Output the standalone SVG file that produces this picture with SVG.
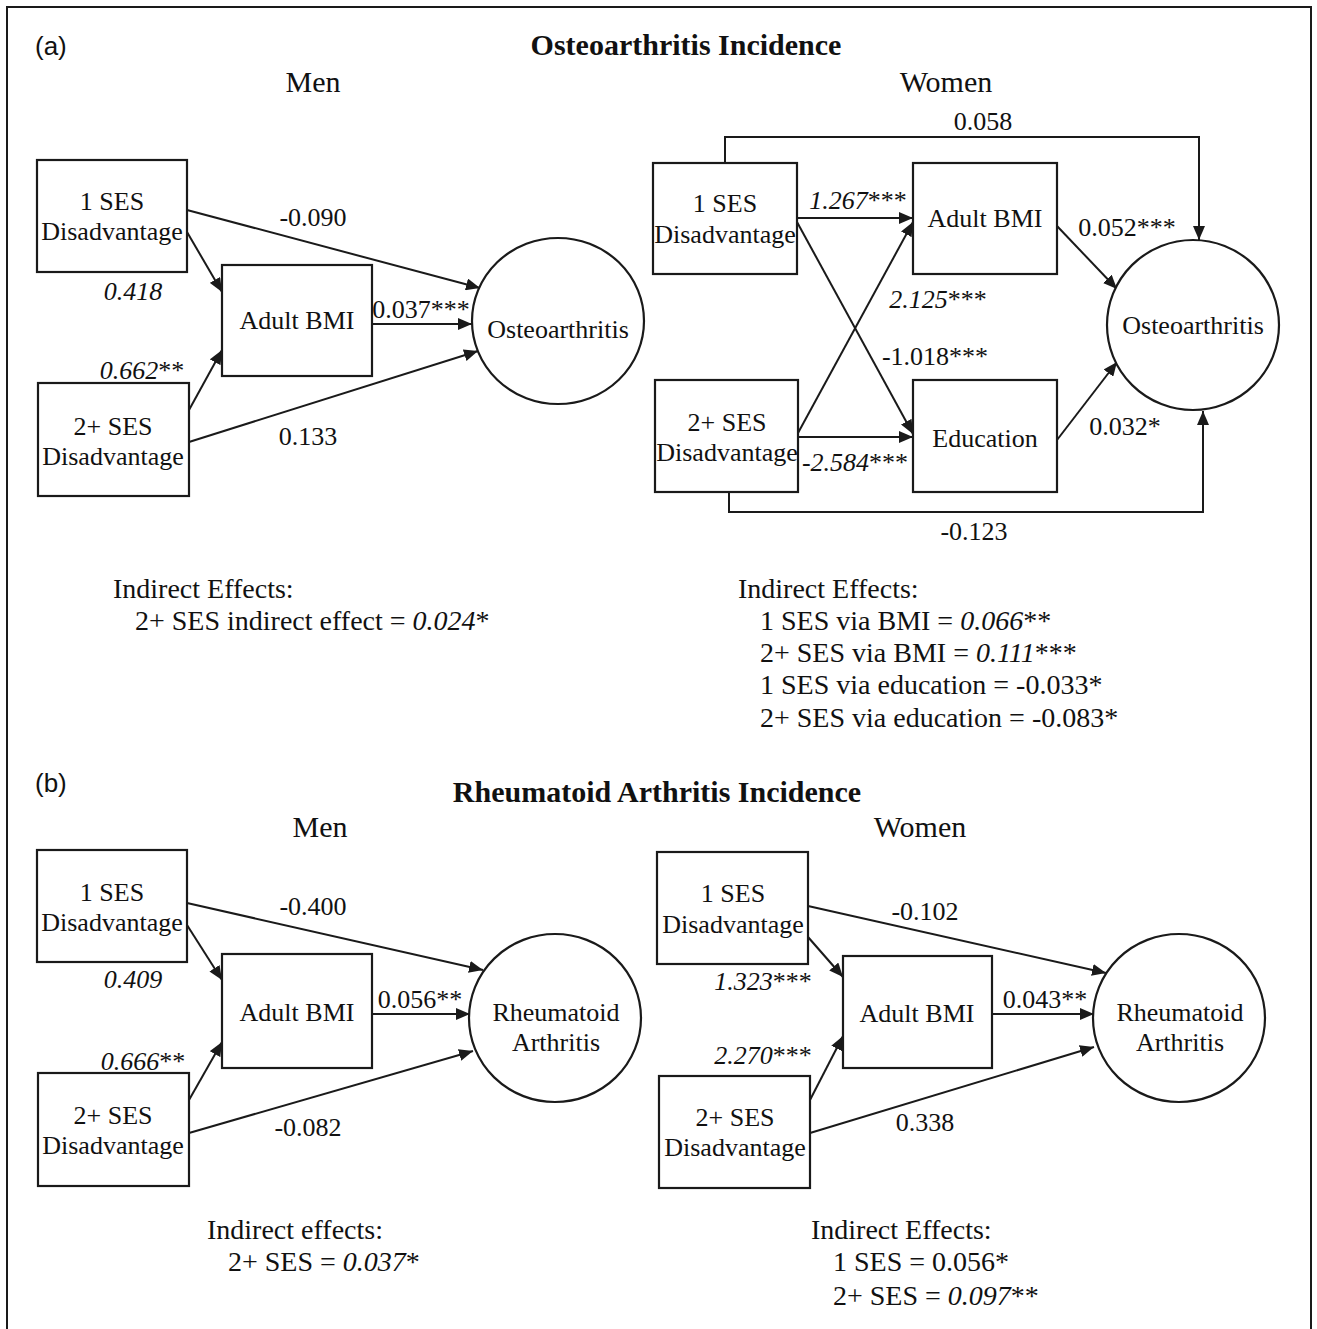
<svg xmlns="http://www.w3.org/2000/svg" width="1317" height="1329" viewBox="0 0 1317 1329">
<defs>
<marker id="ah" markerWidth="14" markerHeight="12" refX="14" refY="6" orient="auto" markerUnits="userSpaceOnUse"><path d="M0,0 L14,6 L0,12 z" fill="#1a1a1a"/></marker>
<style>
.bx{fill:#fff;stroke:#1a1a1a;stroke-width:2.2}
.ci{fill:#fff;stroke:#1a1a1a;stroke-width:2.2}
.ln{fill:none;stroke:#1a1a1a;stroke-width:2;marker-end:url(#ah)}
.t{font-family:"Liberation Serif","Times New Roman",serif;font-size:26px;fill:#111;text-anchor:middle}
.it{font-style:italic}
.lb{font-family:"Liberation Serif","Times New Roman",serif;font-size:26px;fill:#111;text-anchor:middle}
.hd{font-family:"Liberation Serif","Times New Roman",serif;font-size:30px;fill:#111;text-anchor:middle}
.ti{font-family:"Liberation Serif","Times New Roman",serif;font-size:30px;font-weight:bold;fill:#111;text-anchor:middle}
.pl{font-family:"Liberation Sans",Arial,sans-serif;font-size:26px;fill:#111}
.ie{font-family:"Liberation Serif","Times New Roman",serif;font-size:28px;fill:#111}
</style>
</defs>
<rect x="7" y="7" width="1304" height="1330" fill="#fff" stroke="#1a1a1a" stroke-width="2"/>

<g id="headings">
<text class="pl" x="35" y="55">(a)</text>
<text class="ti" x="686" y="55">Osteoarthritis Incidence</text>
<text class="hd" x="313" y="92">Men</text>
<text class="hd" x="946" y="92">Women</text>
<text class="pl" x="35" y="792">(b)</text>
<text class="ti" x="657" y="802">Rheumatoid Arthritis Incidence</text>
<text class="hd" x="320" y="837">Men</text>
<text class="hd" x="920" y="837">Women</text>
</g>

<g id="connectors">
<!-- a men -->
<line class="ln" x1="187" y1="210" x2="480" y2="288"/>
<line class="ln" x1="187" y1="232" x2="222" y2="292"/>
<line class="ln" x1="189" y1="410" x2="222" y2="350"/>
<line class="ln" x1="372" y1="324" x2="472" y2="324"/>
<line class="ln" x1="189" y1="442" x2="478" y2="351"/>
<!-- a women -->
<polyline class="ln" points="725,163 725,137 1199,137 1199,240"/>
<polyline class="ln" points="729,492 729,512 1203,512 1203,411"/>
<line class="ln" x1="797" y1="218" x2="913" y2="218"/>
<line class="ln" x1="797" y1="222" x2="913" y2="434"/>
<line class="ln" x1="798" y1="433" x2="913" y2="222"/>
<line class="ln" x1="798" y1="437" x2="913" y2="437"/>
<line class="ln" x1="1057" y1="226" x2="1117" y2="289"/>
<line class="ln" x1="1057" y1="440" x2="1117" y2="362"/>
<!-- b men -->
<line class="ln" x1="187" y1="903" x2="483" y2="970"/>
<line class="ln" x1="187" y1="925" x2="222" y2="980"/>
<line class="ln" x1="189" y1="1100" x2="222" y2="1042"/>
<line class="ln" x1="372" y1="1014" x2="470" y2="1014"/>
<line class="ln" x1="189" y1="1133" x2="473" y2="1051"/>
<!-- b women -->
<line class="ln" x1="808" y1="906" x2="1106" y2="973"/>
<line class="ln" x1="808" y1="937" x2="843" y2="977"/>
<line class="ln" x1="810" y1="1100" x2="843" y2="1036"/>
<line class="ln" x1="992" y1="1014" x2="1094" y2="1014"/>
<line class="ln" x1="810" y1="1133" x2="1094" y2="1047"/>
</g>

<g id="edge-labels">
<text class="lb" x="313" y="226">-0.090</text>
<text class="lb it" x="133" y="300">0.418</text>
<text class="lb" x="142" y="379"><tspan class="it">0.662</tspan>**</text>
<text class="lb" x="421" y="318">0.037***</text>
<text class="lb" x="308" y="445">0.133</text>
<text class="lb" x="983" y="130">0.058</text>
<text class="lb" x="858" y="209"><tspan class="it">1.267</tspan>***</text>
<text class="lb" x="938" y="308"><tspan class="it">2.125</tspan>***</text>
<text class="lb" x="935" y="365">-1.018***</text>
<text class="lb" x="855" y="471"><tspan class="it">-2.584</tspan>***</text>
<text class="lb" x="1127" y="236">0.052***</text>
<text class="lb" x="1125" y="435">0.032*</text>
<text class="lb" x="974" y="540">-0.123</text>
<text class="lb" x="313" y="915">-0.400</text>
<text class="lb it" x="133" y="988">0.409</text>
<text class="lb" x="420" y="1008">0.056**</text>
<text class="lb" x="143" y="1070"><tspan class="it">0.666</tspan>**</text>
<text class="lb" x="308" y="1136">-0.082</text>
<text class="lb" x="925" y="920">-0.102</text>
<text class="lb" x="763" y="990"><tspan class="it">1.323</tspan>***</text>
<text class="lb" x="1045" y="1008">0.043**</text>
<text class="lb" x="763" y="1064"><tspan class="it">2.270</tspan>***</text>
<text class="lb" x="925" y="1131">0.338</text>
</g>

<!-- a men nodes -->
<g id="a-men-ses1"><rect class="bx" x="37" y="160" width="150" height="112"/><text class="t" x="112" y="210">1 SES</text><text class="t" x="112" y="240">Disadvantage</text></g>
<g id="a-men-bmi"><rect class="bx" x="222" y="265" width="150" height="111"/><text class="t" x="297" y="329">Adult BMI</text></g>
<g id="a-men-ses2"><rect class="bx" x="38" y="383" width="151" height="113"/><text class="t" x="113" y="435">2+ SES</text><text class="t" x="113" y="465">Disadvantage</text></g>
<g id="a-men-oa"><ellipse class="ci" cx="558" cy="321" rx="86" ry="83"/><text class="t" x="558" y="338">Osteoarthritis</text></g>

<!-- a women nodes -->
<g id="a-women-ses1"><rect class="bx" x="653" y="163" width="144" height="111"/><text class="t" x="725" y="212">1 SES</text><text class="t" x="725" y="243">Disadvantage</text></g>
<g id="a-women-bmi"><rect class="bx" x="913" y="163" width="144" height="111"/><text class="t" x="985" y="227">Adult BMI</text></g>
<g id="a-women-ses2"><rect class="bx" x="655" y="380" width="143" height="112"/><text class="t" x="727" y="431">2+ SES</text><text class="t" x="727" y="461">Disadvantage</text></g>
<g id="a-women-edu"><rect class="bx" x="913" y="380" width="144" height="112"/><text class="t" x="985" y="447">Education</text></g>
<g id="a-women-oa"><ellipse class="ci" cx="1193" cy="325" rx="86" ry="85"/><text class="t" x="1193" y="334">Osteoarthritis</text></g>

<!-- b men nodes -->
<g id="b-men-ses1"><rect class="bx" x="37" y="850" width="150" height="112"/><text class="t" x="112" y="901">1 SES</text><text class="t" x="112" y="931">Disadvantage</text></g>
<g id="b-men-bmi"><rect class="bx" x="222" y="954" width="150" height="114"/><text class="t" x="297" y="1021">Adult BMI</text></g>
<g id="b-men-ses2"><rect class="bx" x="38" y="1073" width="151" height="113"/><text class="t" x="113" y="1124">2+ SES</text><text class="t" x="113" y="1154">Disadvantage</text></g>
<g id="b-men-ra"><ellipse class="ci" cx="555" cy="1018" rx="86" ry="84"/><text class="t" x="556" y="1021">Rheumatoid</text><text class="t" x="556" y="1051">Arthritis</text></g>

<!-- b women nodes -->
<g id="b-women-ses1"><rect class="bx" x="657" y="852" width="151" height="112"/><text class="t" x="733" y="902">1 SES</text><text class="t" x="733" y="933">Disadvantage</text></g>
<g id="b-women-bmi"><rect class="bx" x="843" y="956" width="149" height="112"/><text class="t" x="917" y="1022">Adult BMI</text></g>
<g id="b-women-ses2"><rect class="bx" x="659" y="1076" width="151" height="112"/><text class="t" x="735" y="1126">2+ SES</text><text class="t" x="735" y="1156">Disadvantage</text></g>
<g id="b-women-ra"><ellipse class="ci" cx="1179" cy="1018" rx="86" ry="84"/><text class="t" x="1180" y="1021">Rheumatoid</text><text class="t" x="1180" y="1051">Arthritis</text></g>

<g id="indirect-effects">
<text class="ie" x="113" y="598">Indirect Effects:</text>
<text class="ie" x="135" y="630">2+ SES indirect effect = <tspan class="it">0.024</tspan>*</text>
<text class="ie" x="738" y="598">Indirect Effects:</text>
<text class="ie" x="760" y="630">1 SES via BMI = <tspan class="it">0.066</tspan>**</text>
<text class="ie" x="760" y="662">2+ SES via BMI = <tspan class="it">0.111</tspan>***</text>
<text class="ie" x="760" y="694">1 SES via education = -0.033*</text>
<text class="ie" x="760" y="727">2+ SES via education = -0.083*</text>
<text class="ie" x="207" y="1239">Indirect effects:</text>
<text class="ie" x="228" y="1271">2+ SES = <tspan class="it">0.037</tspan>*</text>
<text class="ie" x="811" y="1239">Indirect Effects:</text>
<text class="ie" x="833" y="1271">1 SES = 0.056*</text>
<text class="ie" x="833" y="1305">2+ SES = <tspan class="it">0.097</tspan>**</text>
</g>
</svg>
